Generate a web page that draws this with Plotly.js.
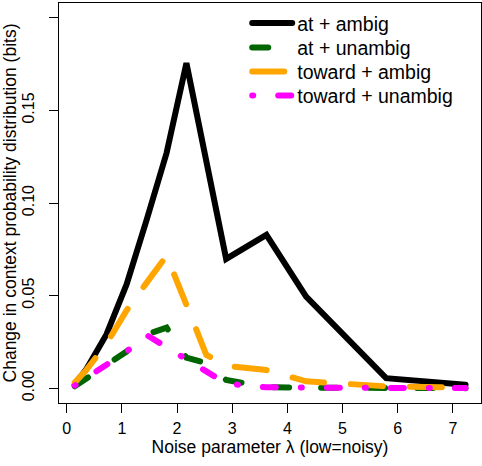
<!DOCTYPE html>
<html>
<head>
<meta charset="utf-8">
<script src="https://cdn.plot.ly/plotly-3.0.1.min.js"></script>
<style>
  html, body { margin: 0; padding: 0; background: #fff; }
  #chart { width: 482px; height: 466px; }
  .js-line { stroke-linecap: round; }
</style>
</head>
<body>
<div id="chart"></div>
<script>
// Noise parameter lambda values (x)
const lambdaValues = [0.145, 0.36, 0.72, 1.085, 1.45, 1.81, 2.17, 2.53, 2.89, 3.62, 4.34, 5.79, 7.23];

// Change in context probability distribution (bits)
const atAmbig      = [0.002, 0.0105, 0.029, 0.056, 0.091, 0.127, 0.1755, 0.123, 0.0698, 0.0828, 0.0495, 0.0054, 0.0018];
const atUnambig    = [0.001, 0.0055, 0.0126, 0.0198, 0.029, 0.0327, 0.0165, 0.0135, 0.0045, 0.0005, 0.0003, 0.0001, 0.0];
const towardAmbig  = [0.003, 0.010, 0.024, 0.042, 0.057, 0.0715, 0.045, 0.018, 0.012, 0.0098, 0.0037, 0.001, 0.0003];
const towardUnambig= [0.0014, 0.0055, 0.0126, 0.0198, 0.0287, 0.0222, 0.0155, 0.0092, 0.0025, 0.0005, 0.0002, 0.0001, 0.0001];

const seriesNames = ["at + ambig", "at + unambig", "toward + ambig", "toward + unambig"];
const xTickVals = [0, 1, 2, 3, 4, 5, 6, 7];
const yTickVals = [0, 0.05, 0.10, 0.15, 0.20];

const FONT = "Liberation Sans, Arial, Helvetica, sans-serif";

const traces = [
  { x: lambdaValues, y: atAmbig, name: seriesNames[0], mode: "lines", legend: "legend",
    line: { color: "#000000", width: 6, dash: "solid" } },
  { x: lambdaValues, y: atUnambig, name: seriesNames[1], mode: "lines", legend: "legend2",
    line: { color: "#006400", width: 6, dash: "16px,32px" } },
  { x: lambdaValues, y: towardAmbig, name: seriesNames[2], mode: "lines", legend: "legend3",
    line: { color: "#FFA500", width: 6, dash: "32px,27px" } },
  { x: lambdaValues, y: towardUnambig, name: seriesNames[3], mode: "lines", legend: "legend4",
    line: { color: "#FF00FF", width: 6, dash: "1px,25px,13px,25px" } }
];

function legendAt(yPaper) {
  return {
    x: 0.446, y: yPaper, xanchor: "left", yanchor: "middle",
    bgcolor: "rgba(0,0,0,0)", borderwidth: 0,
    font: { family: FONT, size: 19.5, color: "#000" },
    itemwidth: 40
  };
}

const layout = {
  width: 482, height: 466,
  margin: { l: 59, r: 1, t: 3, b: 63, pad: 0 },
  paper_bgcolor: "#ffffff", plot_bgcolor: "#ffffff",
  font: { family: FONT, size: 16, color: "#000" },
  showlegend: true,
  legend: legendAt(0.949),
  legend2: legendAt(0.888),
  legend3: legendAt(0.828),
  legend4: legendAt(0.768),
  xaxis: {
    range: [-0.14, 7.51], tickvals: xTickVals, ticktext: xTickVals.map(String),
    showgrid: false, zeroline: false,
    showline: true, mirror: true, linecolor: "#000", linewidth: 1,
    ticks: "outside", ticklen: 9, tickwidth: 1, tickcolor: "#000",
    ticklabelstandoff: 2,
    tickfont: { family: FONT, size: 16 },
    title: { text: "Noise parameter λ (low=noisy)", font: { family: FONT, size: 17.5 }, standoff: 2 }
  },
  yaxis: {
    range: [-0.008, 0.208], tickvals: yTickVals, tickformat: ".2f",
    showgrid: false, zeroline: false,
    showline: true, mirror: true, linecolor: "#000", linewidth: 1,
    ticks: "outside", ticklen: 9, tickwidth: 1, tickcolor: "#000",
    tickangle: -90, ticklabelstandoff: 9,
    tickfont: { family: FONT, size: 16 },
    title: { text: "Change in context probability distribution (bits)", font: { family: FONT, size: 17.5 }, standoff: 4 }
  }
};

Plotly.newPlot("chart", traces, layout, { displayModeBar: false, staticPlot: true });
</script>
</body>
</html>
